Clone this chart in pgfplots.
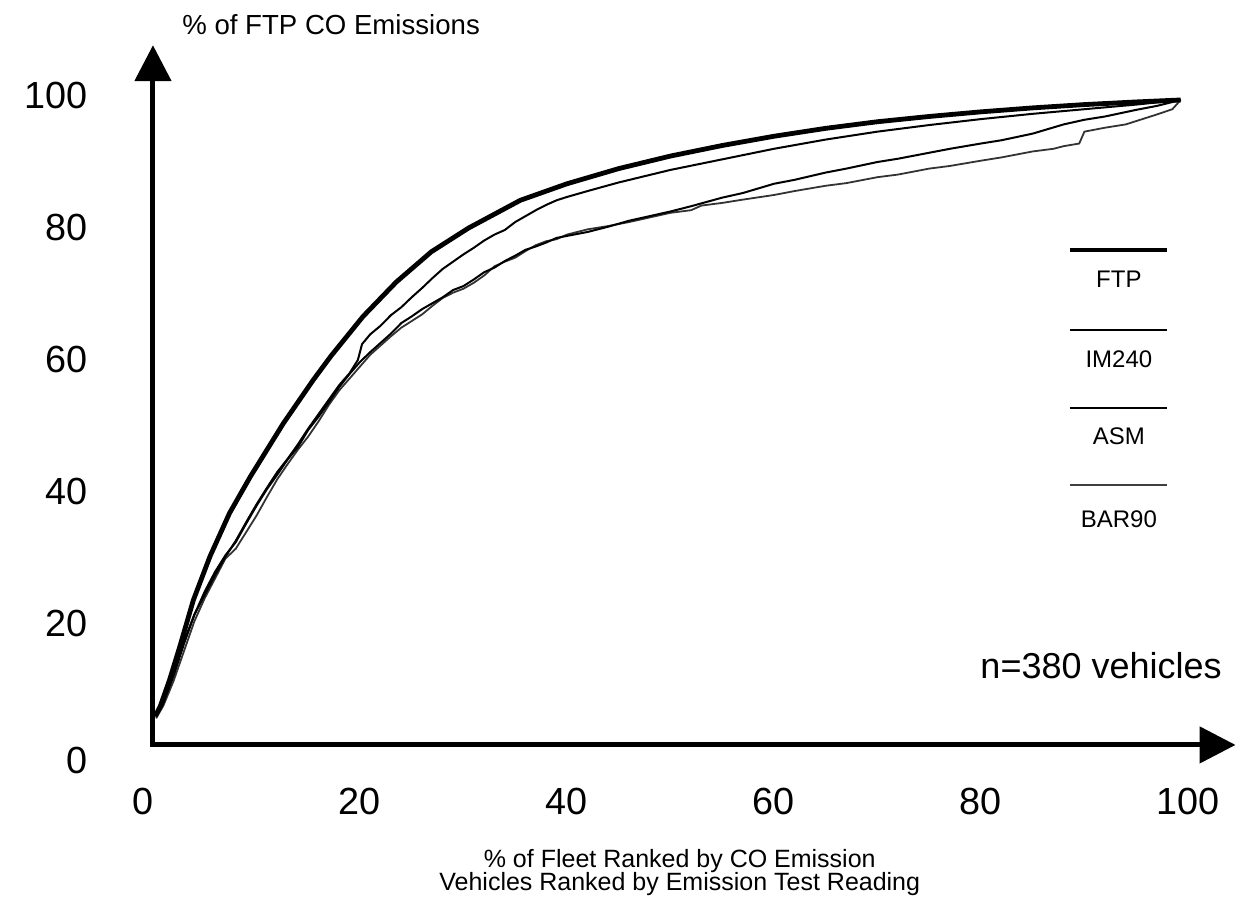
\documentclass[border=0pt]{standalone}
\usepackage{fontspec}
\setmainfont{Liberation Sans}
\usepackage{pgfplots}
\pgfplotsset{compat=1.18}
\usetikzlibrary{arrows.meta}
\begin{document}
\begin{tikzpicture}
\begin{axis}[
  scale only axis,
  x=5.175pt, y=3.3pt,
  xmin=0, xmax=104.6, ymin=2.27, ymax=108.3,
  axis x line=bottom, axis y line=left,
  axis line style={line width=2.5pt, line cap=rect, -{Triangle[length=18pt,width=18pt]}},
  major tick length=0pt,
  xtick={20,40,60,80,100}, ytick={20,40,60,80,100},
  extra x ticks={0}, extra x tick labels={0},
  extra x tick style={tick label style={xshift=-5pt}},
  extra y ticks={2.27}, extra y tick labels={0},
  extra y tick style={tick label style={yshift=-10pt}},
  /pgf/number format/assume math mode=true,
  tick label style={font=\fontsize{18.9}{22}\selectfont, inner sep=0pt},
  xticklabel style={anchor=base, yshift=-35pt},
  yticklabel style={anchor=base east, xshift=-32.5pt, yshift=-4.25pt},
  clip=false,
]
% bounding box of the whole figure
\path (axis cs:-14.78,-21.06) rectangle (axis cs:104.83,115.15);

% BAR90
\addplot[black!80, line width=0.9pt] coordinates {
(0.3,6.3)(1,8.2)(2,12)(3,16.5)(4,21)(5,24.5)(6,27.5)(7,30.5)(8,32)(9,34.5)(10,37)(11,39.8)(12,42.5)(13,44.8)(14,47)(15,49)(16,51.3)(17,53.8)(18,56)(19,57.8)(20,59.6)(21,61.4)(22,62.8)(23,64.2)(24,65.5)(25,66.5)(26,67.5)(27,68.8)(28,70)(29,70.8)(30,71.4)(31,72.3)(32,73.4)(33,74.8)(34,75.5)(35,76.1)(36,77.1)(37,78)(38,78.6)(39,78.9)(40,79.6)(42,80.4)(44,80.9)(46,81.5)(48,82.2)(50,82.9)
(52,83.3)(53,84.0)(55,84.4)(57,84.9)(60,85.6)(62,86.2)(65,87.0)(67,87.4)(70,88.3)(72,88.7)(75,89.6)(77,90.0)(80,90.8)(82,91.3)(85,92.2)(87,92.6)(88,93.0)(89.5,93.4)(90,95.2)(92,95.8)(94,96.3)(95,96.8)(97,97.8)(98.5,98.6)(99.3,100)
};
% ASM
\addplot[black, line width=1pt] coordinates {
(0.3,6.8)(1,9)(2,13)(3,18)(4,22)(5,25.5)(6,28.5)(7,31)(8,33)(9,35.8)(10,38.5)(11,41)(12,43.2)(13,45.5)(14,47.4)(15,50)(16,52)(17,54.2)(18,56.5)(19,58.5)(20,60.3)(21,61.8)(22,63.2)(23,64.6)(24,66.2)(25,67.2)(26,68.3)(27,69.2)(28,70.1)(29,71.2)(30,71.8)(31,72.8)(32,73.9)(33,74.6)(34,75.6)(35,76.4)(36,77.3)(37,77.8)(38,78.4)(39,79.1)(40,79.4)(42,80.0)(44,80.8)(46,81.7)(48,82.4)(50,83.1)
(52,83.9)(55,85.2)(57,85.9)(60,87.3)(62,87.9)(65,89.0)(67,89.6)(70,90.6)(72,91.1)(75,92.0)(77,92.6)(80,93.4)(82,93.9)(85,94.9)(88,96.3)(90,97.0)(92,97.5)(95,98.5)(97,99.1)(99.3,100)
};
% IM240
\addplot[black, line width=1pt] coordinates {
(0.3,6.6)(1,8.6)(2,12.8)(3,17.6)(4,22)(5,25)(6,28)(7,30.8)(8,33.2)(9,36)(10,38.7)(11,41.2)(12,43.6)(13,45.6)(14,47.8)(15,50.2)(16,52.4)(17,54.6)(18,56.8)(19,58.6)(19.8,60.6)(20.2,63)(21,64.5)(22,65.8)(23,67.4)(24,68.6)(25,70.1)(26,71.5)(27,73)(28,74.4)(29,75.5)(30,76.6)(31,77.6)(32,78.7)(33,79.6)(34,80.3)(35,81.5)(36,82.4)(37,83.3)(38,84.1)(39,84.8)(40,85.3)(42,86.2)(45,87.5)
(50,89.4)(55,91.0)(60,92.6)(65,94.0)(70,95.2)(75,96.2)(80,97.1)(85,97.9)(90,98.6)(95,99.3)(99.3,100)
};
% FTP
\addplot[black, line width=2.4pt] coordinates {
(0.2,6.6)(0.7,8.1)(1.6,12.1)(2.6,17.2)(3.9,24.2)(5.5,30.8)(7.4,37.4)(9.4,42.9)(12.6,51.0)(15.5,57.6)(17.2,61.2)(20.3,67.2)(23.5,72.4)(26.9,77.0)(30.5,80.6)(35.5,84.8)
(40,87.3)(45,89.6)(50,91.5)(55,93.1)(60,94.5)(65,95.7)(70,96.7)(75,97.5)(80,98.2)(85,98.8)(90,99.3)(95,99.7)(99.3,100)
};

% legend
\draw[line width=2.35pt] (axis cs:88.6,77.27) -- (axis cs:97.97,77.27);
\draw[line width=1.15pt] (axis cs:88.6,65.15) -- (axis cs:97.97,65.15);
\draw[line width=1.15pt] (axis cs:88.6,53.33) -- (axis cs:97.97,53.33);
\draw[line width=0.85pt, black!75] (axis cs:88.6,41.67) -- (axis cs:97.97,41.67);
\node[anchor=base, inner sep=0pt, font=\fontsize{12}{14}\selectfont] at (axis cs:93.33,71.52) {FTP};
\node[anchor=base, inner sep=0pt, font=\fontsize{12}{14}\selectfont] at (axis cs:93.33,59.39) {IM240};
\node[anchor=base, inner sep=0pt, font=\fontsize{12}{14}\selectfont] at (axis cs:93.33,47.73) {ASM};
\node[anchor=base, inner sep=0pt, font=\fontsize{12}{14}\selectfont] at (axis cs:93.33,35.15) {BAR90};

\node[anchor=base east, inner sep=0pt, font=\fontsize{18}{21}\selectfont] at (axis cs:103.3,12.4) {n=380 vehicles};

\node[anchor=base west, inner sep=0pt, font=\fontsize{13.8}{16}\selectfont] at (axis cs:2.8,109.85) {\% of FTP CO Emissions};

\node[anchor=base, inner sep=0pt, font=\fontsize{12.5}{15}\selectfont] at (axis cs:50.9,-16.36) {\% of Fleet Ranked by CO Emission};
\node[anchor=base, inner sep=0pt, font=\fontsize{12.5}{15}\selectfont] at (axis cs:50.9,-19.85) {Vehicles Ranked by Emission Test Reading};
\end{axis}
\end{tikzpicture}
\end{document}
